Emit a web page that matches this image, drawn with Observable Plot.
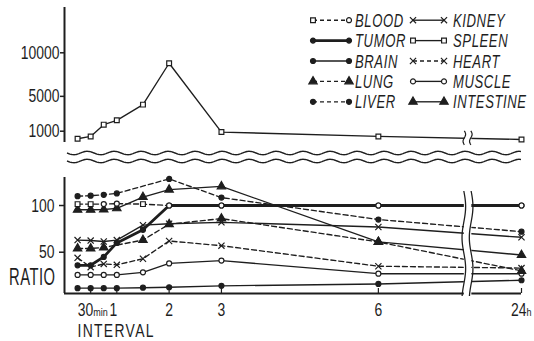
<!DOCTYPE html>
<html><head><meta charset="utf-8">
<script src="https://cdn.jsdelivr.net/npm/d3@7"></script>
<script src="https://cdn.jsdelivr.net/npm/@observablehq/plot@0.6"></script>
<style>
html,body{margin:0;padding:0;background:#fff;}
#chart{position:relative;width:534px;height:341px;overflow:hidden;background:#fff;}
#chart svg{position:absolute;left:0;overflow:visible;}
</style></head><body><div id="chart"></div>
<script>
// ---------------- data ----------------
const hours = [0.25, 0.5, 0.75, 1, 1.5, 2, 3, 6, 24];
const spleen    = [130, 400, 1750, 2250, 4050, 8800, 900, 400, 50];
const blood     = [101.5, 101.5, 101.5, 102, 101.5, 100, 100, 100, 100];
const tumor     = [36, 36, 45, 60, 74, 100, 100, 100, 100];
const brain     = [11.5, 11.5, 11.5, 11.5, 12, 12.5, 14, 16, 20];
const lung      = [54, 54, 55, null, 63, 80, 86, 61, 30];
const liver     = [110, 110.5, 111.5, 113, null, 128.5, 108.5, 85, 72];
const kidney    = [63, 62.5, 61.5, 63, 79, 80.5, 82, 77, 66];
const heart     = [44, 34, 37.5, 36.5, 43, 62, 57, 35, 33];
const muscle    = [25.7, 25.7, 25.7, 25.7, 28.5, 38, 41, 27, 27];
const intestine = [95.5, 95.5, 95.7, 97, 109, 117, 120.5, 61, 47];

const xTickHours  = [0.5, 1, 2, 3, 6, 24];
const xTickMain   = ["30", "1", "2", "3", "6", "24"];
const xTickSuffix = ["min", "", "", "", "", "h"];
const topTicks    = [1000, 5000, 10000];
const bottomTicks = [50, 100];
const yLabel = "RATIO";
const xLabel = "INTERVAL";
const legendLeft  = ["BLOOD", "TUMOR", "BRAIN", "LUNG", "LIVER"];
const legendRight = ["KIDNEY", "SPLEEN", "HEART", "MUSCLE", "INTESTINE"];

// ---------------- styles / layout ----------------
const INK = "#1e1e1e";
const FONT = '"Liberation Sans", Arial, sans-serif';
const NARROW = 0.82;              // horizontal squeeze -> narrow lettering
const W = 534, TOP_H = 170, BOT_H = 171;
const THIN = 1.35, THICK = 2.8, DASH = "5,3";
// time axis is broken after 6 h: later hours are compressed
const COMPRESS = 0.152;
const pos = h => h <= 6 ? h : 6 + (h - 6) * COMPRESS;
const BREAK_POS = 7.71;

const bloodMarks = ["square", "square", "circle", "circle", "square", "circle", "circle", "circle", "circle"];
const seriesStyle = {
  BLOOD:     {values: blood, dash: true, width: THIN, symbol: "square", filled: false},
  TUMOR:     {values: tumor, dash: false, width: THICK, symbol: "circle", filled: true},
  BRAIN:     {values: brain, dash: false, width: THIN, symbol: "circle", filled: true},
  LUNG:      {values: lung, dash: true, width: THIN, symbol: "triangle", filled: true},
  LIVER:     {values: liver, dash: true, width: THIN, symbol: "circle", filled: true},
  KIDNEY:    {values: kidney, dash: false, width: THIN, symbol: "times", filled: false},
  SPLEEN:    {values: spleen, dash: false, width: THIN, symbol: "square", filled: false},
  HEART:     {values: heart, dash: true, width: THIN, symbol: "times", filled: false},
  MUSCLE:    {values: muscle, dash: false, width: THIN, symbol: "circle", filled: false},
  INTESTINE: {values: intestine, dash: false, width: THIN, symbol: "triangle", filled: true}
};
const symR = {circle: 2.5, square: 2.7, triangle: 3.1, times: 2.9};
function dotOpts(symbol, filled) {
  if (symbol === "times") return {symbol, r: symR.times, fill: "none", stroke: INK, strokeWidth: 1.2};
  return {symbol, r: symR[symbol], fill: filled ? INK : "white", stroke: INK, strokeWidth: 1.2};
}
const rowsOf = vals => hours.map((h, i) => ({x: pos(h), y: vals[i], i})).filter(d => d.y != null);

const chart = document.getElementById("chart");

// ---------------- top panel (spleen) ----------------
const spleenRows = rowsOf(spleen);
const topPlot = Plot.plot({
  width: W, height: TOP_H,
  marginLeft: 64, marginRight: 13, marginTop: 7, marginBottom: 28,
  x: {domain: [0, pos(24)], axis: null},
  y: {domain: [-297, 15200]},
  style: {fontFamily: FONT, fontSize: "17px", color: INK, background: "transparent"},
  marks: [
    Plot.ruleX([0], {stroke: INK, strokeWidth: 2}),
    Plot.axisY({ticks: topTicks, tickSize: 4, tickPadding: 1, tickFormat: d => String(d), label: null, strokeWidth: 1.5}),
    Plot.line(spleenRows, {x: "x", y: "y", stroke: INK, strokeWidth: THIN}),
    Plot.dot(spleenRows, {x: "x", y: "y", ...dotOpts("square", false)})
  ]
});
topPlot.style.top = "0px";
chart.appendChild(topPlot);

// ---------------- bottom panel (ratios) ----------------
const Y_MIN = 5.8, Y_MAX = 130;
const bMarginTop = 7, bMarginBottom = 48;
const unitsPerPx = (Y_MAX - Y_MIN) / (BOT_H - bMarginTop - bMarginBottom);
const bottomOrder = ["BRAIN", "MUSCLE", "HEART", "LUNG", "KIDNEY", "INTESTINE", "LIVER", "BLOOD", "TUMOR"];
const lineMarks = [], dotMarks = [];
for (const name of bottomOrder) {
  const s = seriesStyle[name];
  const rows = rowsOf(s.values);
  lineMarks.push(Plot.line(rows, {x: "x", y: "y", stroke: INK, strokeWidth: s.width, strokeDasharray: s.dash ? DASH : null}));
  if (name === "BLOOD") continue;
  dotMarks.push(Plot.dot(rows, {x: "x", y: "y", ...dotOpts(s.symbol, s.filled)}));
}
const bloodRows = rowsOf(blood);
dotMarks.push(Plot.dot(bloodRows.filter(d => bloodMarks[d.i] === "square"), {x: "x", y: "y", ...dotOpts("square", false)}));
dotMarks.push(Plot.dot(bloodRows.filter(d => bloodMarks[d.i] === "circle"), {x: "x", y: "y", ...dotOpts("circle", false)}));

const tickLabelMarks = [];
xTickHours.forEach((h, i) => {
  const suf = xTickSuffix[i];
  const main = xTickMain[i];
  const shift = main === "1" ? -3.5 : main === "30" ? 2.5 : main === "24" ? 5 : 0;
  tickLabelMarks.push(Plot.text([main], {x: pos(h), frameAnchor: "bottom", text: d => d, dy: 22, dx: shift,
    lineAnchor: "bottom", textAnchor: suf ? "end" : "middle", fontSize: 17, fill: INK}));
  if (suf) tickLabelMarks.push(Plot.text([suf], {x: pos(h), frameAnchor: "bottom", text: d => d, dy: 22, dx: shift,
    lineAnchor: "bottom", textAnchor: "start", fontSize: 11, fill: INK}));
});

const bottomPlot = Plot.plot({
  width: W, height: BOT_H,
  marginLeft: 64, marginRight: 13, marginTop: bMarginTop, marginBottom: bMarginBottom,
  x: {domain: [0, pos(24)], axis: null},
  y: {domain: [Y_MIN, Y_MAX]},
  style: {fontFamily: FONT, fontSize: "17px", color: INK, background: "transparent"},
  marks: [
    Plot.ruleX([0], {stroke: INK, strokeWidth: 2}),
    Plot.ruleY([Y_MIN], {stroke: INK, strokeWidth: 2}),
    Plot.ruleX(xTickHours.map(pos), {y1: Y_MIN, y2: Y_MIN + 5 * unitsPerPx, stroke: INK, strokeWidth: 1.2}),
    Plot.axisY({ticks: bottomTicks, tickSize: 5, tickPadding: 5, tickFormat: d => String(d), label: null, strokeWidth: 1.5}),
    ...lineMarks,
    ...dotMarks,
    ...tickLabelMarks,
    Plot.text([yLabel], {frameAnchor: "bottom-left", text: d => d, dx: -9, dy: -9, lineAnchor: "bottom", textAnchor: "end", fontSize: 18, fill: INK}),
    Plot.text([xLabel], {frameAnchor: "bottom-left", text: d => d, dx: 13, dy: 43, lineAnchor: "bottom", textAnchor: "start", fontSize: 17, fill: INK})
  ]
});
bottomPlot.style.top = TOP_H + "px";
chart.appendChild(bottomPlot);

// narrow, tall lettering: squeeze horizontally and stretch vertically about each text's anchor
function stretchTexts(svg) {
  svg.querySelectorAll("text").forEach(t => {
    const content = t.textContent;
    let sy = 1.12;
    if (xTickSuffix.includes(content) && content) sy = 1.0;
    if (content === yLabel) { sy = 1.28; t.setAttribute("letter-spacing", 0.6); }
    if (content === xLabel) { sy = 1.12; t.setAttribute("letter-spacing", 1.6); }
    const tr = t.getAttribute("transform") || "";
    const xa = t.getAttribute("x"), ya = t.getAttribute("y");
    const x = xa && !String(xa).includes("em") ? parseFloat(xa) : 0;
    const y = ya && !String(ya).includes("em") ? parseFloat(ya) : 0;
    t.setAttribute("transform", `${tr} translate(${x},${y}) scale(${NARROW},${sy}) translate(${-x},${-y})`);
  });
}
stretchTexts(topPlot);
stretchTexts(bottomPlot);

// ---------------- decorations: axis breaks ----------------
const wave = (a0, a1, c, amp, wl, vertical) => {
  const pts = d3.range(a0, a1 + 0.01, 1).map(a => {
    const o = c + amp * Math.sin(2 * Math.PI * (a - a0) / wl);
    return vertical ? [o, a] : [a, o];
  });
  return d3.line()(pts);
};
{
  const xs = topPlot.scale("x"), ys = topPlot.scale("y");
  const svg = d3.select(topPlot);
  const yb = TOP_H - 28;
  for (const off of [11, 19]) {
    svg.append("path").attr("d", wave(xs.apply(0) + 3, xs.apply(pos(24)), yb + off, 1.7, 27, false))
      .attr("fill", "none").attr("stroke", INK).attr("stroke-width", 1.4);
  }
  const xb = xs.apply(BREAK_POS);
  const p6 = pos(6), p24 = pos(24);
  const yv = spleen[7] + (spleen[8] - spleen[7]) * (BREAK_POS - p6) / (p24 - p6);
  const yc = ys.apply(yv);
  svg.append("rect").attr("x", xb - 3).attr("y", yc - 5).attr("width", 7).attr("height", 10).attr("fill", "white");
  for (const dx of [-3, 3.5]) {
    svg.append("path").attr("d", wave(yc - 7, yc + 7, xb + dx, 1.3, 14, true))
      .attr("fill", "none").attr("stroke", INK).attr("stroke-width", 1.2);
  }
}
{
  const xs = bottomPlot.scale("x");
  const svg = d3.select(bottomPlot);
  const xb = xs.apply(BREAK_POS);
  const yTop = bMarginTop + 14, yBot = BOT_H - bMarginBottom + 3;
  svg.append("rect").attr("x", xb - 3.5).attr("y", yTop).attr("width", 7.5).attr("height", yBot - yTop).attr("fill", "white");
  for (const dx of [-3.5, 3.8]) {
    svg.append("path").attr("d", wave(yTop, yBot, xb + dx, 1.8, 62, true))
      .attr("fill", "none").attr("stroke", INK).attr("stroke-width", 1.3);
  }
}

// ---------------- legend ----------------
{
  const svg = d3.select(chart).append("svg").attr("width", W).attr("height", 120).style("top", "0px");
  const cols = [{names: legendLeft, x0: 313, x1: 349, tx: 355}, {names: legendRight, x0: 413, x1: 444, tx: 453}];
  const sym = name => ({circle: d3.symbolCircle, square: d3.symbolSquare, triangle: d3.symbolTriangle, times: d3.symbolTimes})[name];
  cols.forEach(col => col.names.forEach((name, i) => {
    const s = seriesStyle[name];
    const base = 26.7 + 20.4 * i;
    const yl = base - 6.5;
    svg.append("line").attr("x1", col.x0).attr("x2", col.x1).attr("y1", yl).attr("y2", yl)
      .attr("stroke", INK).attr("stroke-width", s.width).attr("stroke-dasharray", s.dash ? "4,3" : null);
    const ends = name === "BLOOD" ? ["square", "circle"] : [s.symbol, s.symbol];
    [col.x0, col.x1].forEach((x, k) => {
      const sy = ends[k];
      const o = dotOpts(sy, s.filled);
      svg.append("path").attr("d", d3.symbol(sym(sy), Math.PI * o.r * o.r)())
        .attr("transform", `translate(${x},${yl})`)
        .attr("fill", o.fill).attr("stroke", o.stroke).attr("stroke-width", o.strokeWidth);
    });
    svg.append("text").attr("transform", `translate(${col.tx},${base}) scale(${NARROW},1.17)`)
      .attr("font-family", FONT).attr("font-size", 16).attr("font-style", "italic")
      .attr("letter-spacing", 0.7).attr("fill", INK).text(name);
  }));
}
</script></body></html>
